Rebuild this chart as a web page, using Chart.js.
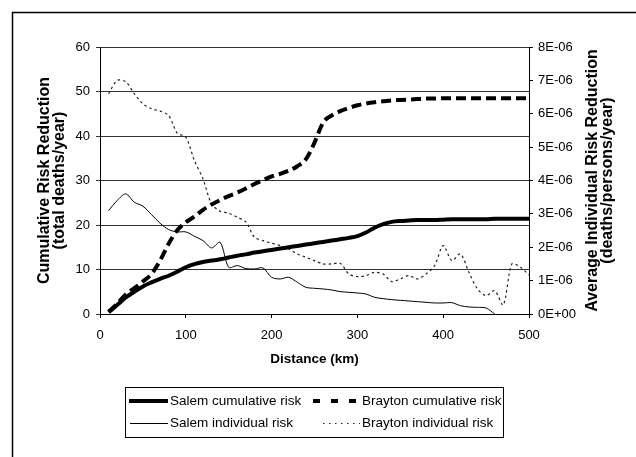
<!DOCTYPE html>
<html>
<head>
<meta charset="utf-8">
<script src="https://cdn.jsdelivr.net/npm/chart.js@4.4.1/dist/chart.umd.min.js"></script>
<style>
  html, body { margin: 0; padding: 0; background: #fff; }
  #risk-chart { display: block; }
</style>
</head>
<body>
<canvas id="risk-chart" width="636" height="457"></canvas>
<script>
// ─── DATA ─────────────────────────────────────────────────
const distanceKm = [10, 20, 30, 40, 50, 60, 70, 80, 90, 100,
    110, 120, 130, 140, 150, 160, 170, 180, 190, 200,
    210, 220, 230, 240, 250, 260, 270, 280, 290, 300,
    310, 320, 330, 340, 350, 360, 370, 380, 390, 400,
    410, 420, 430, 440, 450, 460, 470, 480, 490, 500];

// total deaths/year
const salemCumulative = [0.4, 2.0, 3.7, 5.0, 6.2, 7.1, 7.9, 8.6, 9.5, 10.5,
    11.2, 11.7, 12.0, 12.3, 12.7, 13.1, 13.4, 13.8, 14.1, 14.4,
    14.7, 15.0, 15.3, 15.6, 15.9, 16.2, 16.5, 16.8, 17.1, 17.5,
    18.3, 19.4, 20.2, 20.7, 20.9, 21.0, 21.1, 21.1, 21.1, 21.2,
    21.3, 21.3, 21.3, 21.3, 21.3, 21.4, 21.4, 21.4, 21.4, 21.4];

const braytonCumulative = [0.5, 2.3, 4.4, 5.8, 7.3, 9.0, 12.0, 15.8, 18.8, 20.6,
    21.9, 23.4, 24.6, 25.6, 26.5, 27.3, 28.2, 29.2, 30.1, 30.9,
    31.5, 32.2, 33.2, 34.8, 38.5, 43.0, 44.6, 45.6, 46.3, 46.9,
    47.3, 47.6, 47.8, 48.0, 48.1, 48.2, 48.3, 48.4, 48.4, 48.5,
    48.5, 48.5, 48.5, 48.5, 48.5, 48.5, 48.5, 48.5, 48.5, 48.5];

// deaths/persons/year, in units of 1E-06
const salemIndividual = [3.10, 3.40, 3.60, 3.35, 3.23, 2.98, 2.72, 2.53, 2.46, 2.46,
    2.33, 2.20, 1.98, 2.15, 1.40, 1.45, 1.36, 1.35, 1.38, 1.10,
    1.05, 1.10, 0.95, 0.80, 0.77, 0.75, 0.72, 0.67, 0.65, 0.63,
    0.60, 0.50, 0.46, 0.43, 0.41, 0.39, 0.37, 0.35, 0.33, 0.33,
    0.34, 0.25, 0.21, 0.20, 0.18, 0.00, null, null, null, null];

const braytonIndividual = [6.60, 7.00, 6.96, 6.60, 6.30, 6.15, 6.08, 5.95, 5.42, 5.30,
    4.60, 4.05, 3.30, 3.08, 3.02, 2.90, 2.76, 2.30, 2.20, 2.12,
    2.05, 1.95, 1.80, 1.70, 1.60, 1.50, 1.50, 1.52, 1.20, 1.12,
    1.15, 1.25, 1.20, 0.97, 1.05, 1.15, 1.05, 1.20, 1.45, 2.05,
    1.60, 1.80, 1.25, 0.75, 0.55, 0.70, 0.27, 1.50, 1.40, 1.17];

const seriesNames = ['Salem cumulative risk', 'Brayton cumulative risk',
    'Salem individual risk', 'Brayton individual risk'];

const FONT = "'Liberation Sans', Arial, sans-serif";

// ─── PLUGINS ──────────────────────────────────────────────
// outer frame, rotated axis titles, x title and the boxed legend
const decorations = {
    id: 'decorations',
    beforeDraw(chart) {
        const ctx = chart.ctx;
        ctx.save();
        ctx.strokeStyle = '#000';
        ctx.lineWidth = 1.5;
        ctx.strokeRect(12.5, 12.5, 700, 700);
        ctx.restore();
    },
    afterDraw(chart) {
        const ctx = chart.ctx;
        const area = chart.chartArea;
        const midY = (area.top + area.bottom) / 2;

        ctx.save();
        ctx.fillStyle = '#000';
        ctx.textAlign = 'center';
        ctx.textBaseline = 'middle';
        ctx.font = 'bold 16px ' + FONT;

        const vertical = (lines, x0, gap) => {
            lines.forEach((t, i) => {
                ctx.save();
                ctx.translate(x0 + i * gap, midY);
                ctx.rotate(-Math.PI / 2);
                ctx.fillText(t, 0, 0);
                ctx.restore();
            });
        };
        vertical(['Cumulative Risk Reduction', '(total deaths/year)'], 45, 15);
        vertical(['Average Individual Risk Reduction', '(deaths/persons/year)'], 593, 15);

        ctx.font = 'bold 13.5px ' + FONT;
        ctx.fillText('Distance (km)', (area.left + area.right) / 2, 359);

        // legend
        const ds = chart.data.datasets;
        ctx.strokeStyle = '#000';
        ctx.lineWidth = 1;
        ctx.strokeRect(125.5, 387.5, 378, 50);

        const rows = [401, 423.5];
        const items = [
            { d: ds[0], x1: 129, x2: 168, tx: 170, y: rows[0], dash: [] },
            { d: ds[1], x1: 313, x2: 361, tx: 362, y: rows[0], dash: [7, 11] },
            { d: ds[2], x1: 130, x2: 168, tx: 170, y: rows[1], dash: [] },
            { d: ds[3], x1: 323, x2: 360, tx: 362, y: rows[1], dash: [1.5, 4.5] },
        ];
        ctx.textAlign = 'left';
        ctx.font = '13.5px ' + FONT;
        items.forEach(it => {
            ctx.save();
            ctx.strokeStyle = it.d.borderColor;
            ctx.lineWidth = it.d.borderWidth;
            ctx.setLineDash(it.dash);
            ctx.beginPath();
            ctx.moveTo(it.x1, it.y);
            ctx.lineTo(it.x2, it.y);
            ctx.stroke();
            ctx.restore();
            ctx.fillText(it.d.label, it.tx, it.y);
        });
        ctx.restore();
    }
};

// ─── CHART ────────────────────────────────────────────────
const tickFont = { family: FONT, size: 13 };

new Chart(document.getElementById('risk-chart'), {
    type: 'line',
    data: {
        labels: distanceKm,
        datasets: [
            {
                label: seriesNames[0], data: salemCumulative, yAxisID: 'y',
                borderColor: '#000', borderWidth: 4, cubicInterpolationMode: 'monotone',
            },
            {
                label: seriesNames[1], data: braytonCumulative, yAxisID: 'y',
                borderColor: '#000', borderWidth: 4, borderDash: [10, 5],
                cubicInterpolationMode: 'monotone',
            },
            {
                label: seriesNames[2], data: salemIndividual, yAxisID: 'y2',
                borderColor: '#000', borderWidth: 1, tension: 0.3,
            },
            {
                label: seriesNames[3], data: braytonIndividual, yAxisID: 'y2',
                borderColor: '#222', borderWidth: 1.2, borderDash: [2.5, 3], tension: 0.3,
            },
        ]
    },
    options: {
        responsive: false,
        animation: false,
        layout: { padding: { top: 47, left: 0, right: 0, bottom: 0 } },
        elements: { point: { radius: 0 } },
        plugins: { legend: { display: false }, tooltip: { enabled: false } },
        scales: {
            x: {
                type: 'linear', min: 0, max: 500,
                afterFit: s => { s.height = 143; },
                ticks: { stepSize: 100, font: tickFont, color: '#000', padding: 10, maxRotation: 0 },
                grid: { drawOnChartArea: false, tickLength: 4, color: '#000' },
                border: { color: '#000', width: 1 },
            },
            y: {
                position: 'left', min: 0, max: 60,
                afterFit: s => { s.width = 100; },
                ticks: { stepSize: 10, font: tickFont, color: '#000', padding: 6 },
                grid: { color: '#333', lineWidth: 1, tickLength: 4 },
                border: { color: '#000', width: 1 },
            },
            y2: {
                position: 'right', min: 0, max: 8,
                afterFit: s => { s.width = 107; },
                ticks: {
                    stepSize: 1, font: tickFont, color: '#000', padding: 5,
                    callback: v => v === 0 ? '0E+00' : v + 'E-06',
                },
                grid: { drawOnChartArea: false, tickLength: 4, color: '#000' },
                border: { color: '#000', width: 1 },
            },
        }
    },
    plugins: [decorations]
});
</script>
</body>
</html>
